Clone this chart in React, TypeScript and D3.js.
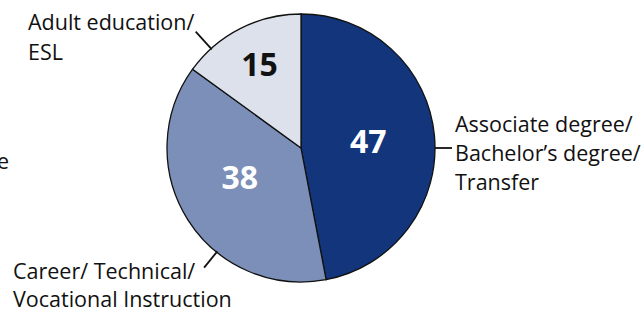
import React from "react";
import * as d3 from "d3";

const categories = [
  "Associate degree/ Bachelor’s degree/ Transfer",
  "Career/ Technical/ Vocational Instruction",
  "Adult education/ ESL",
];
const values = [47, 38, 15];
const colors = ["#12357c", "#7b8fb8", "#dce1ec"];
const valueColors = ["#ffffff", "#ffffff", "#111111"];
const labelLines = [
  ["Associate degree/", "Bachelor’s degree/", "Transfer"],
  ["Career/ Technical/", "Vocational Instruction"],
  ["Adult education/", "ESL"],
];

const width = 644;
const height = 309;
const cx = 301;
const cy = 148;
const radius = 134;
const font = "'Open Sans', 'Noto Sans', sans-serif";

const App = () => {
  const pie = d3
    .pie<number>()
    .sort(null)
    .value((d) => d);
  const arcs = pie(values);
  const arc = d3.arc<d3.PieArcDatum<number>>().innerRadius(0).outerRadius(radius);
  const valueArc = d3
    .arc<d3.PieArcDatum<number>>()
    .innerRadius(radius * 0.55)
    .outerRadius(radius * 0.55);

  // leader line at a fraction t along a slice's arc, from r0 to r1
  const leader = (a: d3.PieArcDatum<number>, t: number, r0: number, r1: number) => {
    const angle = a.startAngle + (a.endAngle - a.startAngle) * t;
    const p0 = d3.pointRadial(angle, r0);
    const p1 = d3.pointRadial(angle, r1);
    return { x1: cx + p0[0], y1: cy + p0[1], x2: cx + p1[0], y2: cy + p1[1] };
  };

  const valueOffsets = [
    [-6, -0.5],
    [1, -11],
    [-8, -19],
  ];

  const labelPos = [
    { x: 455, y: 132, lh: 29 },
    { x: 13, y: 279, lh: 28 },
    { x: 28, y: 30, lh: 30 },
  ];
  const leaders = [
    leader(arcs[0], 90 / 169.2, radius, radius + 17),
    leader(arcs[1], 0.364, radius - 1, radius + 20),
    leader(arcs[2], 0.22, radius - 1, radius + 23),
  ];

  return (
    <svg width={width} height={height} style={{ position: "absolute", left: 0, top: 0 }}>
      <rect width={width} height={height} fill="#ffffff" />
      <text x={9} y={169} textAnchor="end" fontFamily={font} fontSize={21.5} fill="#111">
        e
      </text>
      <g transform={`translate(${cx},${cy})`}>
        {arcs.map((a, i) => (
          <path key={i} d={arc(a) || ""} fill={colors[i]} stroke="#111" strokeWidth={1.3} />
        ))}
        {arcs.map((a, i) => {
          const [x, y] = valueArc.centroid(a);
          return (
            <text
              key={i}
              x={x + valueOffsets[i][0]}
              y={y + valueOffsets[i][1]}
              textAnchor="middle"
              dominantBaseline="central"
              fontFamily={font}
              fontWeight={700}
              fontSize={32}
              fill={valueColors[i]}
            >
              {values[i]}
            </text>
          );
        })}
      </g>
      {leaders.map((l, i) => (
        <line key={i} {...l} stroke="#111" strokeWidth={1.8} />
      ))}
      {labelLines.map((lines, i) => (
        <text
          key={i}
          x={labelPos[i].x}
          y={labelPos[i].y}
          fontFamily={font}
          fontSize={21.5}
          fill="#111"
          aria-label={categories[i]}
        >
          {lines.map((t, j) => (
            <tspan key={j} x={labelPos[i].x} dy={j === 0 ? 0 : labelPos[i].lh}>
              {t}
            </tspan>
          ))}
        </text>
      ))}
    </svg>
  );
};

export default App;
